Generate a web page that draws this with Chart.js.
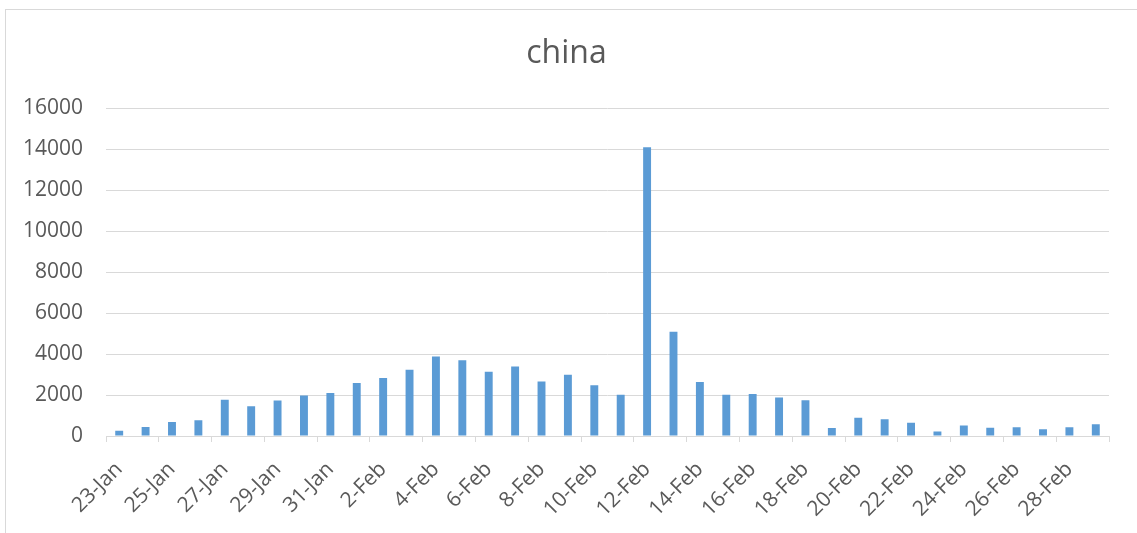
<!DOCTYPE html>
<html>
<head>
<meta charset="utf-8">
<script src="https://cdn.jsdelivr.net/npm/chart.js@4/dist/chart.umd.min.js"></script>
<style>
  body { margin: 0; background: #fff; overflow: hidden; }
  #frame { position: absolute; left: 5px; top: 9px; width: 1200px; height: 600px;
           border-top: 1px solid #d9d9d9; border-left: 1px solid #d9d9d9; }
  #chart { position: absolute; left: 0; top: 0; }
</style>
</head>
<body>
<div id="frame"></div>
<canvas id="chart" width="1137" height="533"></canvas>
<script>
const days = ['23-Jan', '24-Jan', '25-Jan', '26-Jan', '27-Jan', '28-Jan', '29-Jan', '30-Jan', '31-Jan',
  '1-Feb', '2-Feb', '3-Feb', '4-Feb', '5-Feb', '6-Feb', '7-Feb', '8-Feb', '9-Feb', '10-Feb',
  '11-Feb', '12-Feb', '13-Feb', '14-Feb', '15-Feb', '16-Feb', '17-Feb', '18-Feb', '19-Feb', '20-Feb',
  '21-Feb', '22-Feb', '23-Feb', '24-Feb', '25-Feb', '26-Feb', '27-Feb', '28-Feb', '29-Feb'];
const cases = [259, 444, 688, 769, 1771, 1459, 1737, 1982, 2102,
  2590, 2829, 3235, 3887, 3694, 3143, 3399, 2656, 2990, 2478,
  2015, 14108, 5090, 2641, 2009, 2048, 1886, 1749, 394, 889,
  823, 648, 214, 508, 406, 433, 327, 427, 573];
const yMin = 0;
const yMax = 16000;
const yStep = 2000;

const grey = '#d9d9d9';
const txt = '#595959';
const font = 'Open Sans';

const ctx = document.getElementById('chart');

new Chart(ctx, {
  type: 'bar',
  data: {
    labels: days,
    datasets: [{
      label: 'china',
      data: cases,
      backgroundColor: '#5B9BD5',
      borderWidth: 0,
      categoryPercentage: 1,
      barPercentage: 0.3
    }]
  },
  options: {
    responsive: false,
    animation: false,
    layout: { padding: { left: 24, right: 28, top: 35, bottom: 0 } },
    plugins: {
      legend: { display: false },
      tooltip: { enabled: false },
      title: {
        display: true,
        text: 'china',
        color: txt,
        font: { family: font, size: 32, weight: 'normal', lineHeight: 1.2 },
        padding: { top: 0, bottom: 35 }
      }
    },
    scales: {
      x: {
        offset: true,
        afterFit: s => { s.height = 97; },
        grid: {
          offset: true,
          drawOnChartArea: false,
          drawTicks: true,
          tickLength: 6,
          color: c => (c.index === undefined || c.index % 2 === 0) ? grey : 'rgba(0,0,0,0)'
        },
        border: { display: true, color: grey },
        ticks: {
          autoSkip: false,
          maxRotation: 45,
          minRotation: 45,
          padding: 15,
          color: txt,
          font: { family: font, size: 21 },
          callback: function(v, i) { return i % 2 === 0 ? this.getLabelForValue(v) : ''; }
        }
      },
      y: {
        min: yMin,
        max: yMax,
        afterFit: s => { s.width = 82; },
        grid: { color: grey, drawTicks: false },
        border: { display: false },
        ticks: {
          stepSize: yStep,
          padding: 23,
          color: txt,
          font: { family: font, size: 21 },
          callback: v => String(v)
        }
      }
    }
  }
});
</script>
</body>
</html>
